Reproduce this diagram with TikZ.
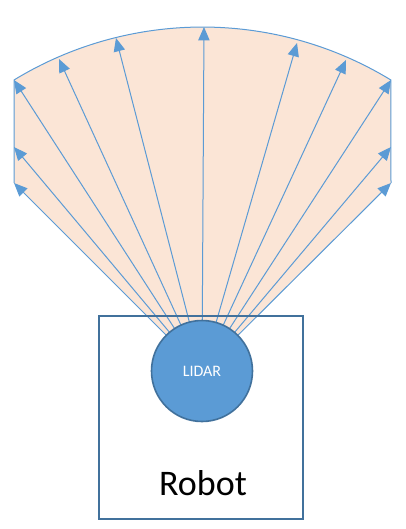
\documentclass[tikz,border=0pt]{standalone}
\usepackage{fontspec}
\setmainfont{Carlito}
\usetikzlibrary{arrows.meta}
\definecolor{beam}{RGB}{91,155,213}
\definecolor{rim}{RGB}{65,113,156}
\definecolor{sweep}{RGB}{251,229,214}
\tikzset{
  ray/.style={-{Triangle[length=10pt,width=8.5pt]},line width=0.75pt,draw=beam},
  fanfill/.style={fill=sweep,draw=none},
  fanrim/.style={line width=0.75pt,draw=beam},
  robotbox/.style={draw=rim,line width=1.5pt,minimum width=153pt,minimum height=152.25pt,inner sep=0pt},
  sensor/.style={circle,draw=rim,line width=1.2pt,fill=beam,minimum size=75.75pt,inner sep=0pt,
    text=white,font=\fontsize{12}{14}\selectfont},
  bigtext/.style={font=\fontsize{27}{32}\selectfont,text=black}
}

\begin{document}
\begin{tikzpicture}[x=0.75pt,y=-0.75pt]
  \useasboundingbox (0,0) rectangle (405,529);
  \coordinate (scan) at (202,371);

  % scanned area
  \fill[fanfill] (scan) -- (14,183) -- (14,80)
    arc[start angle=238.6,end angle=301.4,radius=361.7] -- (391,183) -- cycle;
  \draw[fanrim] (14,183) -- (14,80)
    arc[start angle=238.6,end angle=301.4,radius=361.7] -- (391,183);

  % laser rays
  \foreach \tx/\ty [count=\i] in {14/183,14/147,14/80,59/59,116/38,204/27,
      297/43,346/60,391/80,391/147,391/183} {
    \coordinate (tip\i) at (\tx,\ty);
    \draw[ray] (scan) -- (tip\i);
  }

  \node[robotbox] (robot) at (201,417.5) {};
  \node[bigtext] (robotlabel) at (203,483) {Robot};
  \node[sensor] (lidar) at (scan) {LIDAR};
\end{tikzpicture}
\end{document}
